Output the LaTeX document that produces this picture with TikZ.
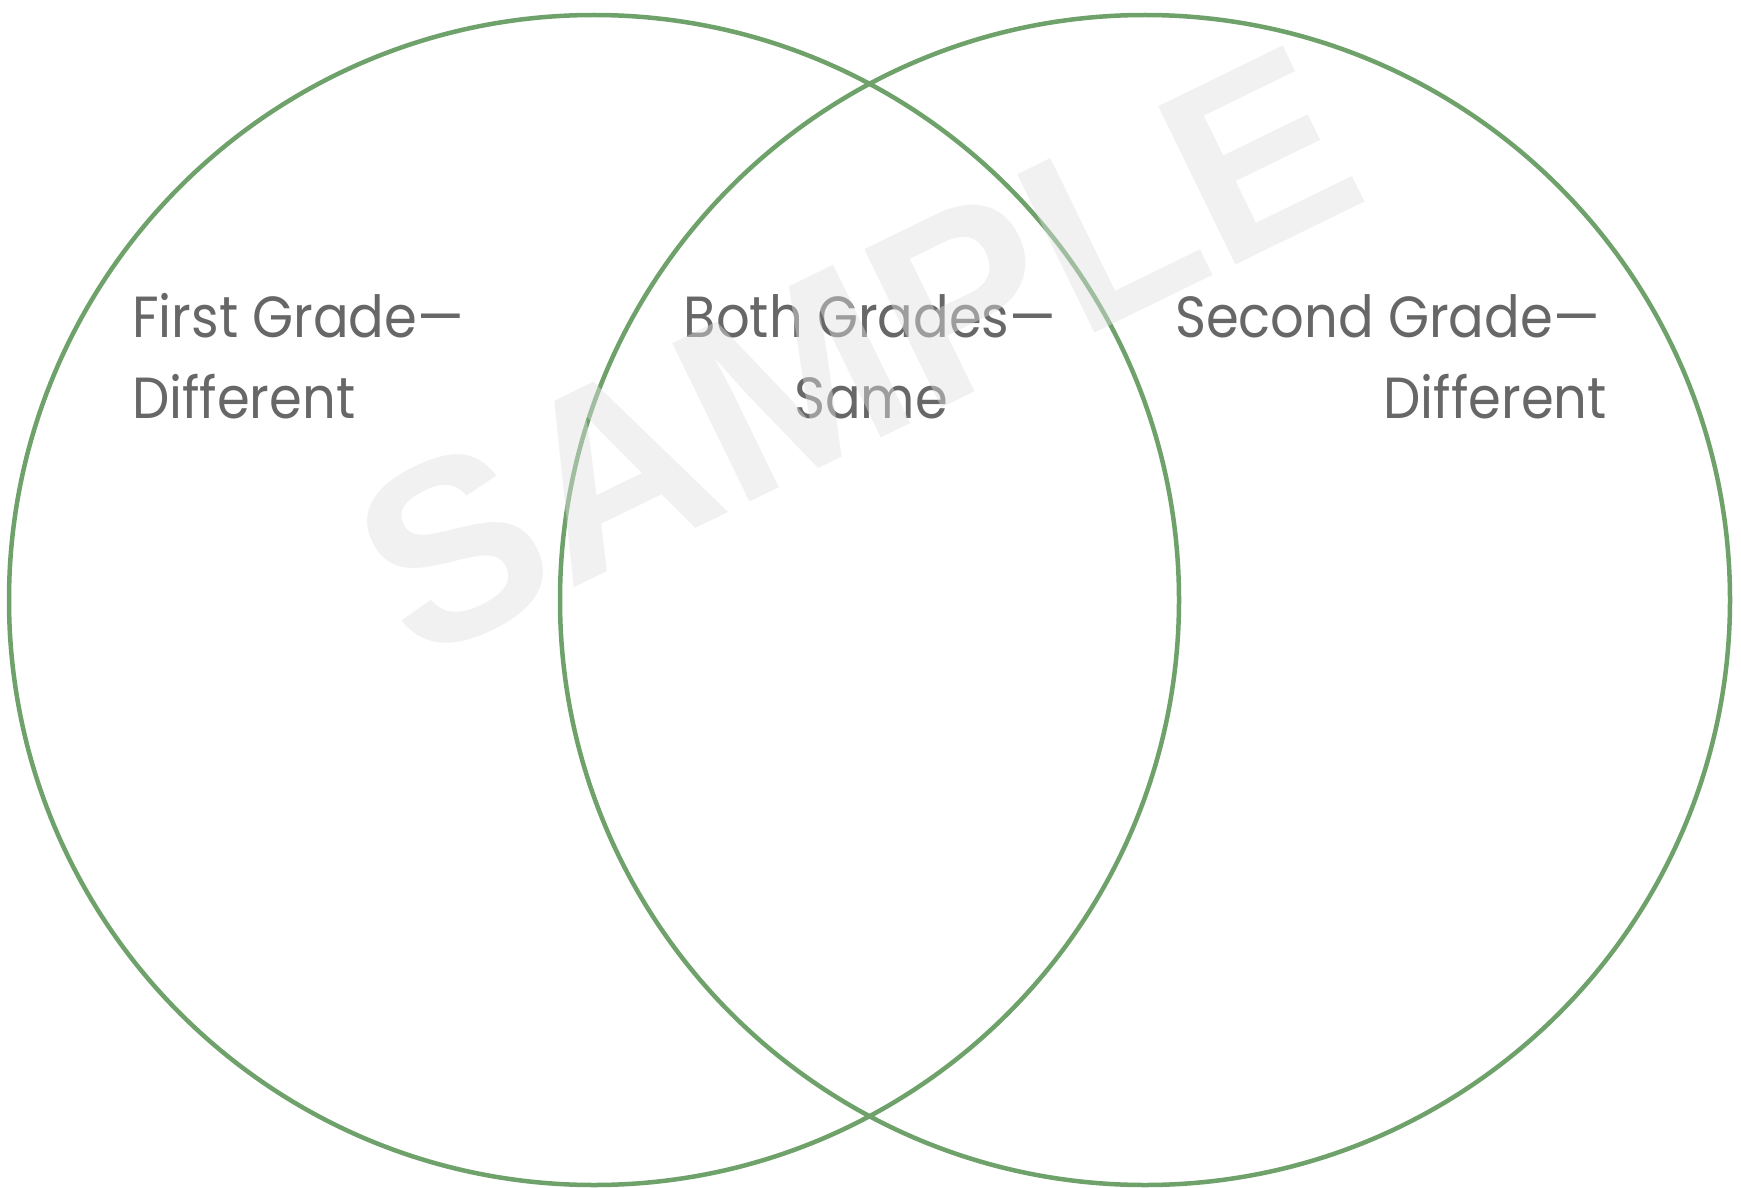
\documentclass[tikz,border=0pt]{standalone}
\usepackage{fontspec}
\setmainfont{Poppins}[FakeStretch=0.91]
\newfontfamily\wmfont{Liberation Sans}
\definecolor{ring}{RGB}{110,162,106}
\definecolor{lab}{RGB}{103,103,103}
\definecolor{wm}{RGB}{224,224,224}
\tikzset{
  ringline/.style={draw=ring, line width=4.5pt},
  labtext/.style={inner sep=0pt, text=lab, font=\fontsize{58}{70}\selectfont},
  wmtext/.style={inner sep=0pt, text=wm, opacity=0.45, font=\wmfont\bfseries\fontsize{256}{256}\selectfont}
}
\begin{document}
\begin{tikzpicture}[x=1pt,y=-1pt]
\useasboundingbox[fill=white] (0,0) rectangle (1741,1188);
\draw[ringline] (594,600) circle[radius=585];
\draw[ringline] (1145,600) circle[radius=585];
\node[labtext, anchor=base west] (fg1) at (132,337) {First Grade—};
\node[labtext, anchor=base west] (fg2) at (132,418) {Different};
\node[labtext, anchor=base] (bg1) at (870,337) {Both Grades—};
\node[labtext, anchor=base] (bg2) at (871,418) {Same};
\node[labtext, anchor=base east] (sg1) at (1600,337) {Second Grade—};
\node[labtext, anchor=base east] (sg2) at (1607,418) {Different};
\node[wmtext, rotate=26] (wmk) at (856,352) {SAMPLE};
\end{tikzpicture}
\end{document}
